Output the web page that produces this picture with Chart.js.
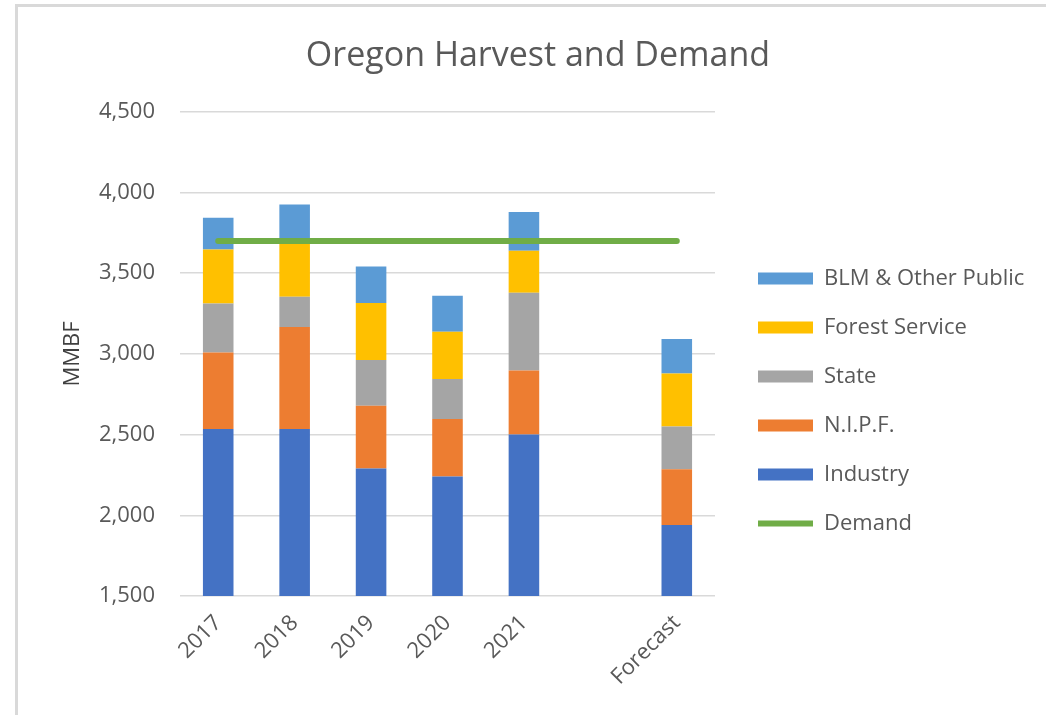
<!DOCTYPE html>
<html>
<head>
<meta charset="utf-8">
<script src="https://cdn.jsdelivr.net/npm/chart.js@4/dist/chart.umd.min.js"></script>
<style>
    html, body { margin: 0; padding: 0; background: #fff; }
    #wrap { position: relative; width: 1046px; height: 715px; overflow: hidden; }
    #frame {
        position: absolute; left: 15px; top: 4px; width: 1100px; height: 800px;
        border-left: 3px solid #d9d9d9; border-top: 3px solid #d9d9d9;
        pointer-events: none;
    }
</style>
</head>
<body>
<div id="wrap">
    <canvas id="harvestChart" width="1046" height="715"></canvas>
    <div id="frame"></div>
</div>
<script>
    // Harvest by owner (MMBF), blank slot before the forecast
    const categories = ['2017', '2018', '2019', '2020', '2021', '', 'Forecast'];
    const industry = [2535, 2535, 2290, 2240, 2500, null, 1940];
    const nipf = [473, 631, 389, 356, 397, null, 346];
    const state = [304, 188, 283, 248, 482, null, 264];
    const forestService = [335, 342, 354, 294, 260, null, 329];
    const blmOther = [197, 229, 225, 223, 240, null, 213];
    const demand = [3700, 3700, 3700, 3700, 3700, null, 3700];

    const textColor = '#595959';
    const fontFamily = '"Open Sans", "Noto Sans", sans-serif';

    function formatThousands(value) {
        return Number(value).toLocaleString('en-US');
    }

    function barSet(label, data, color) {
        return {
            label: label,
            data: data,
            backgroundColor: color,
            borderWidth: 0,
            pointStyle: 'rect',
            barPercentage: 0.4,
            categoryPercentage: 1
        };
    }

    // Fix legend width and nudge its items, like the Excel layout
    const legendLayout = {
        id: 'legendLayout',
        beforeInit(chart) {
            const legend = chart.legend;
            const fit = legend.fit;
            legend.fit = function () {
                fit.call(this);
                this.width = 311;
            };
        },
        afterLayout(chart) {
            chart.legend.left += 16;
            chart.legend.right += 16;
            chart.legend.top += 53;
            chart.legend.bottom += 53;
        }
    };

    const ctx = document.getElementById('harvestChart').getContext('2d');
    new Chart(ctx, {
        type: 'bar',
        data: {
            labels: categories,
            datasets: [
                barSet('Industry', industry, '#4472C4'),
                barSet('N.I.P.F.', nipf, '#ED7D31'),
                barSet('State', state, '#A5A5A5'),
                barSet('Forest Service', forestService, '#FFC000'),
                barSet('BLM & Other Public', blmOther, '#5B9BD5'),
                {
                    type: 'line',
                    label: 'Demand',
                    data: demand,
                    stack: 'demand',
                    order: -1,
                    borderColor: '#70AD47',
                    backgroundColor: '#70AD47',
                    borderWidth: 6,
                    borderCapStyle: 'round',
                    pointRadius: 0,
                    pointStyle: 'line',
                    spanGaps: true,
                    fill: false
                }
            ]
        },
        options: {
            responsive: false,
            animation: false,
            layout: {
                padding: { left: 50, right: 20, top: 10, bottom: 29 }
            },
            plugins: {
                title: {
                    display: true,
                    text: 'Oregon Harvest and Demand',
                    color: textColor,
                    font: { family: fontFamily, size: 34, weight: 'normal' },
                    padding: { top: 26, bottom: 35 }
                },
                legend: {
                    position: 'right',
                    align: 'center',
                    reverse: true,
                    labels: {
                        usePointStyle: true,
                        pointStyleWidth: 55,
                        boxHeight: 12,
                        padding: 27,
                        color: textColor,
                        font: { family: fontFamily, size: 22 }
                    }
                },
                tooltip: { enabled: false }
            },
            scales: {
                x: {
                    stacked: true,
                    grid: { display: false },
                    border: { display: false },
                    ticks: {
                        color: textColor,
                        font: { family: fontFamily, size: 22 },
                        minRotation: 45,
                        maxRotation: 45,
                        padding: 6
                    },
                    afterFit: function (scale) {
                        scale.height = 90;
                    }
                },
                y: {
                    stacked: true,
                    min: 1500,
                    max: 4500,
                    grid: { color: '#d9d9d9', lineWidth: 1.5, drawTicks: false },
                    border: { display: false },
                    ticks: {
                        stepSize: 500,
                        padding: 25,
                        color: textColor,
                        font: { family: fontFamily, size: 22 },
                        callback: function (value) {
                            return formatThousands(value);
                        }
                    },
                    title: {
                        display: true,
                        text: 'MMBF',
                        color: '#404040',
                        font: { family: fontFamily, size: 22 },
                        padding: { top: 10, bottom: 0 }
                    },
                    afterFit: function (scale) {
                        scale.width = 130;
                    }
                }
            }
        },
        plugins: [legendLayout]
    });
</script>
</body>
</html>
